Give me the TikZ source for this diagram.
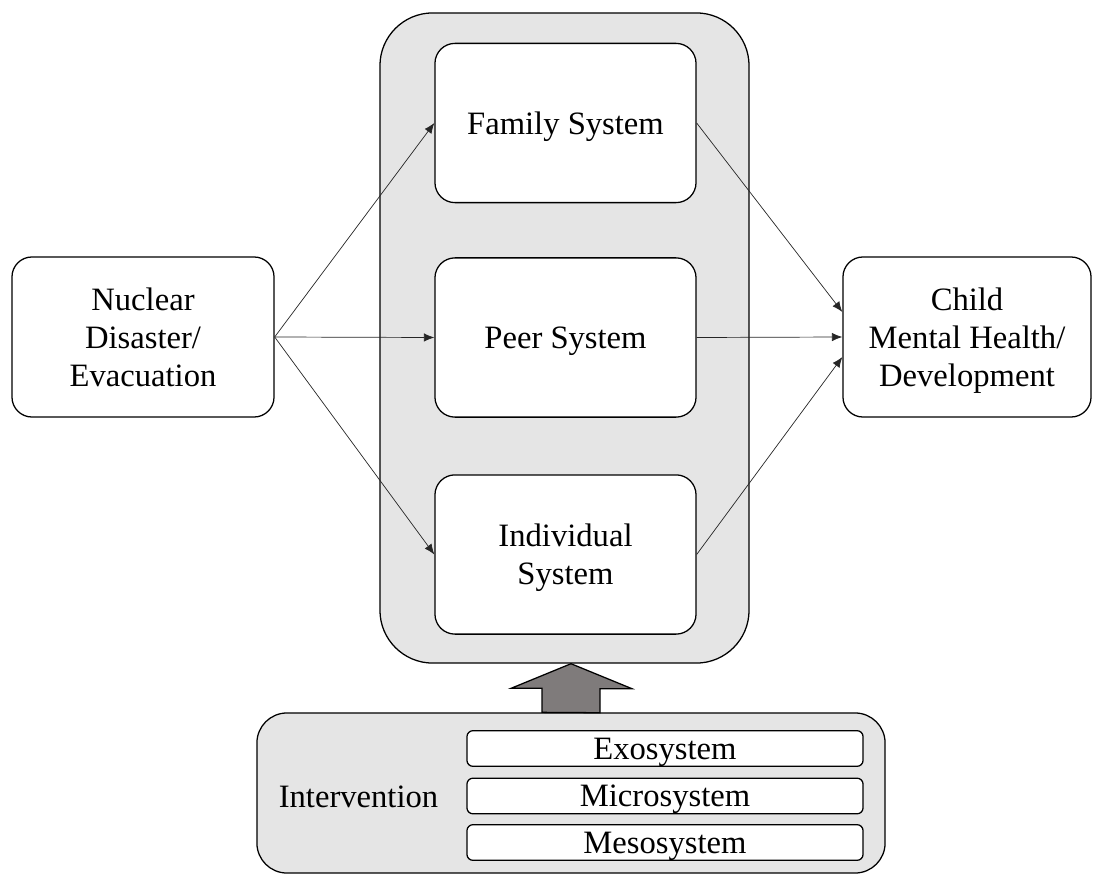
\documentclass[tikz,border=0pt]{standalone}
\usepackage{fontspec}
\setmainfont{Liberation Serif}
\usepackage{xcolor}
\usepackage{tikz}
\usetikzlibrary{arrows.meta}

\definecolor{panelgray}{RGB}{229,229,229}
\definecolor{arrowgray}{RGB}{127,123,123}

\begin{document}
\begin{tikzpicture}[
  x=0.025cm, y=-0.025cm,
  box/.style={draw, line width=0.9pt, rounded corners=0.5cm, align=center, inner sep=0pt,
              text depth=0pt, font=\fontsize{23.2}{27}\selectfont, fill=#1},
  box/.default=white,
  sysbox/.style={box, minimum width=6.525cm, minimum height=3.98cm},
  panel/.style={draw, line width=0.9pt, fill=panelgray, inner sep=0pt},
  layer/.style={box, rounded corners=0.15cm, minimum width=9.9cm, minimum height=0.89cm},
  arr/.style={-{Latex[length=2.6mm,width=2.1mm]}, line width=0.5pt, black!85},
  bigarr/.style={draw, line width=0.9pt, fill=arrowgray, line join=miter}
]
  \useasboundingbox (0,0) rectangle (1093,874);

  % Panels
  \node[panel, rounded corners=1.32cm, minimum width=9.225cm, minimum height=16.25cm] (outer) at (564.5,338) {};
  \node[panel, rounded corners=0.75cm, minimum width=15.7cm, minimum height=4cm] (interv) at (571,793) {};

  % Nodes
  \node[sysbox] (family) at (565.5,123) {Family System};
  \node[sysbox] (peer) at (565.5,337.5) {Peer System};
  \node[sysbox] (indiv) at (565.5,554.5) {Individual\\System};
  \node[box, minimum width=6.55cm, minimum height=4cm] (nuclear) at (143,337) {Nuclear\\Disaster/\\Evacuation};
  \node[box, minimum width=6.2cm, minimum height=4cm] (child) at (967,337) {Child\\Mental Health/\\Development};

  \node[font=\fontsize{23.2}{27}\selectfont, text depth=0pt] (intlabel) at (358.5,797) {Intervention};
  \node[layer] (exo) at (665,748.5) {Exosystem};
  \node[layer] (micro) at (665,796) {Microsystem};
  \node[layer] (meso) at (665,842.5) {Mesosystem};

  % Arrows
  \draw[arr] (nuclear.east) -- (family.west);
  \draw[arr] (nuclear.east) -- (peer.west);
  \draw[arr] (nuclear.east) -- (indiv.west);
  \draw[arr] (family.east) -- ([yshift=0.625cm]child.west);
  \draw[arr] (peer.east) -- (child.west);
  \draw[arr] (indiv.east) -- ([yshift=-0.5cm]child.west);

  % Intervention arrow
  \draw[bigarr] (interv.north) ++(-29,0) -- ++(0,-24) -- ++(-31,0)
    -- (interv.north |- outer.south) -- ++(61,25) -- ++(-32,0) -- ++(0,24) -- cycle;
\end{tikzpicture}
\end{document}
